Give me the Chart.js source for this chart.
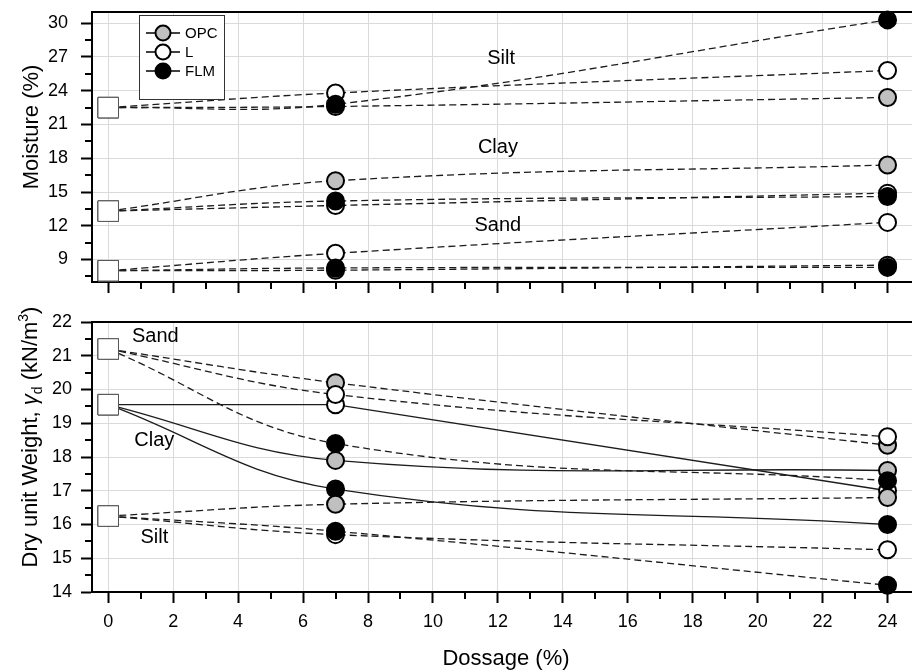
<!DOCTYPE html>
<html>
<head>
<meta charset="utf-8">
<script src="https://cdn.jsdelivr.net/npm/chart.js@4.4.0/dist/chart.umd.min.js"></script>
<style>
html,body{margin:0;padding:0;background:#fff;overflow:hidden;width:912px;height:672px;}
#top{position:absolute;left:0;top:0;}
#bot{position:absolute;left:0;top:300px;}
</style>
</head>
<body>
<canvas id="top" width="920" height="300"></canvas>
<canvas id="bot" width="920" height="372"></canvas>
<script>
const FONT = "'Liberation Sans', Arial, Helvetica, sans-serif";

// ---------- data ----------
const dosage = [0, 7, 24];

const materialNames = ['OPC', 'L', 'FLM'];
const materialFills = ['#c0c0c0', '#ffffff', '#000000'];

// Moisture (%)
const moistSiltOPC = [22.5, 22.6, 23.4];
const moistSiltL   = [22.5, 23.8, 25.8];
const moistSiltFLM = [22.5, 22.8, 30.3];
const moistClayOPC = [13.3, 16.0, 17.4];
const moistClayL   = [13.3, 13.8, 14.9];
const moistClayFLM = [13.3, 14.2, 14.6];
const moistSandOPC = [8.0, 8.05, 8.5];
const moistSandL   = [8.0, 9.55, 12.3];
const moistSandFLM = [8.0, 8.25, 8.3];

// Dry unit weight (kN/m3)
const dryClayOPC = [19.55, 17.9, 17.6];
const dryClayL   = [19.55, 19.55, 17.0];
const dryClayFLM = [19.55, 17.05, 16.0];
const drySandOPC = [21.2, 20.2, 18.35];
const drySandL   = [21.2, 19.85, 18.6];
const drySandFLM = [21.2, 18.4, 17.3];
const drySiltOPC = [16.25, 16.6, 16.8];
const drySiltL   = [16.25, 15.7, 15.25];
const drySiltFLM = [16.25, 15.8, 14.2];

// ticks
const xTickValues = [0, 2, 4, 6, 8, 10, 12, 14, 16, 18, 20, 22, 24];
const xMinorTicks = [1, 3, 5, 7, 9, 11, 13, 15, 17, 19, 21, 23];
const moistTicks = [9, 12, 15, 18, 21, 24, 27, 30];
const moistMinorTicks = [7.5, 10.5, 13.5, 16.5, 19.5, 22.5, 25.5, 28.5];
const dryTicks = [14, 15, 16, 17, 18, 19, 20, 21, 22];
const dryMinorTicks = [14.5, 15.5, 16.5, 17.5, 18.5, 19.5, 20.5, 21.5];

// in-plot soil labels (text + data position)
const moistLabels = ['Silt', 'Clay', 'Sand'];
const moistLabelX = [12.1, 12.0, 12.0];
const moistLabelY = [26.9, 19.0, 12.0];
const dryLabels = ['Sand', 'Clay', 'Silt'];
const dryLabelX = [1.45, 1.42, 1.42];
const dryLabelY = [21.57, 18.5, 15.63];

// ---------- helpers ----------
function buildDatasets(groups) {
  const lines = [], points = [];
  groups.forEach((g, i) => {
    const data = dosage.map((d, k) => ({x: d, y: g.values[k]}));
    lines.push({
      data, showLine: true, borderColor: '#1c1c1c', borderWidth: 1.3,
      borderDash: g.dash ? [7, 4] : [],
      tension: g.straight ? 0 : 0.4,
      pointRadius: 0, order: 100, clip: false
    });
    points.push({
      data, showLine: false,
      pointStyle: ['rect', 'circle', 'circle'],
      pointRadius: [14.5, 8.5, 8.5],
      pointBackgroundColor: ['#ffffff', g.fill, g.fill],
      pointBorderColor: ['#555555', '#000000', '#000000'],
      pointBorderWidth: [1, 2, 2],
      order: groups.length - i, clip: false
    });
  });
  return lines.concat(points);
}

function drawVerticalRich(ctx, cx, cy, parts) {
  ctx.save();
  ctx.translate(cx, cy);
  ctx.rotate(-Math.PI / 2);
  let total = 0;
  parts.forEach(p => {
    ctx.font = (p.italic ? 'italic ' : '') + p.size + 'px ' + FONT;
    p.w = ctx.measureText(p.text).width;
    total += p.w;
  });
  let xx = -total / 2;
  ctx.textAlign = 'left';
  ctx.textBaseline = 'alphabetic';
  ctx.fillStyle = '#000';
  parts.forEach(p => {
    ctx.font = (p.italic ? 'italic ' : '') + p.size + 'px ' + FONT;
    ctx.fillText(p.text, xx, p.dy);
    xx += p.w;
  });
  ctx.restore();
}

const decorPlugin = {
  id: 'decor',
  afterDraw(chart, args, opts) {
    const {ctx, chartArea: ca} = chart;
    const x = chart.scales.x, y = chart.scales.y;
    ctx.save();
    // top spine
    ctx.strokeStyle = '#000';
    ctx.lineWidth = 2;
    ctx.beginPath();
    ctx.moveTo(ca.left - 1, ca.top);
    ctx.lineTo(ca.right, ca.top);
    ctx.stroke();
    // minor ticks
    ctx.beginPath();
    opts.xMinor.forEach(v => {
      const px = Math.round(x.getPixelForValue(v));
      ctx.moveTo(px, ca.bottom);
      ctx.lineTo(px, ca.bottom + 7);
    });
    opts.yMinor.forEach(v => {
      const py = Math.round(y.getPixelForValue(v));
      ctx.moveTo(ca.left, py);
      ctx.lineTo(ca.left - 7, py);
    });
    ctx.stroke();
    // soil labels
    ctx.fillStyle = '#000';
    ctx.font = '20px ' + FONT;
    ctx.textAlign = 'center';
    ctx.textBaseline = 'middle';
    opts.labels.forEach((t, i) => {
      ctx.fillText(t, x.getPixelForValue(opts.labelX[i]), y.getPixelForValue(opts.labelY[i]));
    });
    // y title
    drawVerticalRich(ctx, opts.titleX, opts.titleY, opts.title);
    // legend
    if (opts.legend) {
      ctx.fillStyle = '#fff';
      ctx.fillRect(139.5, 15.5, 85, 84);
      ctx.strokeStyle = '#333';
      ctx.lineWidth = 1;
      ctx.strokeRect(139.5, 15.5, 85, 84);
      materialNames.forEach((name, i) => {
        const ry = 33 + i * 19;
        ctx.strokeStyle = '#000';
        ctx.lineWidth = 1.5;
        ctx.beginPath();
        ctx.moveTo(146, ry);
        ctx.lineTo(180, ry);
        ctx.stroke();
        ctx.beginPath();
        ctx.arc(163, ry, 7.5, 0, Math.PI * 2);
        ctx.fillStyle = materialFills[i];
        ctx.fill();
        ctx.lineWidth = 2;
        ctx.stroke();
        ctx.fillStyle = '#000';
        ctx.font = '15px ' + FONT;
        ctx.textAlign = 'left';
        ctx.textBaseline = 'middle';
        ctx.fillText(name, 185, ry + 1);
      });
    }
    ctx.restore();
  }
};

function zeroPad(s) {
  s.paddingTop = 0; s.paddingBottom = 0; s.paddingLeft = 0; s.paddingRight = 0;
}

function makeScales(yMin, yMax, yTicks, showXLabels, xHeight, yPad) {
  return {
    x: {
      type: 'linear', min: -0.5, max: 25,
      afterBuildTicks: s => { s.ticks = xTickValues.map(v => ({value: v})); },
      afterFit: s => { s.height = xHeight; zeroPad(s); },
      ticks: {display: showXLabels, font: {family: FONT, size: 18}, color: '#000', padding: 8, maxRotation: 0, autoSkip: false},
      grid: {color: '#dadada', lineWidth: 1, tickLength: 11, tickColor: '#000', tickWidth: 2},
      border: {color: '#000', width: 2},
      title: showXLabels ? {display: true, text: 'Dossage (%)', font: {family: FONT, size: 22}, color: '#000', padding: {top: 0, bottom: 0}} : {display: false}
    },
    y: {
      type: 'linear', min: yMin, max: yMax,
      afterBuildTicks: s => { s.ticks = yTicks.map(v => ({value: v})); },
      afterFit: s => { s.width = 92; zeroPad(s); },
      ticks: {font: {family: FONT, size: 18}, color: '#000', padding: yPad},
      grid: {color: '#dadada', lineWidth: 1, tickLength: 11, tickColor: '#000', tickWidth: 2},
      border: {color: '#000', width: 2}
    }
  };
}

// ---------- top chart: moisture ----------
new Chart(document.getElementById('top'), {
  type: 'scatter',
  data: {
    datasets: buildDatasets([
      {values: moistClayOPC, fill: materialFills[0], dash: true},
      {values: moistClayL, fill: materialFills[1], dash: true},
      {values: moistClayFLM, fill: materialFills[2], dash: true},
      {values: moistSandOPC, fill: materialFills[0], dash: true},
      {values: moistSandL, fill: materialFills[1], dash: true},
      {values: moistSandFLM, fill: materialFills[2], dash: true},
      {values: moistSiltOPC, fill: materialFills[0], dash: true},
      {values: moistSiltL, fill: materialFills[1], dash: true},
      {values: moistSiltFLM, fill: materialFills[2], dash: true}
    ])
  },
  options: {
    responsive: false, animation: false, devicePixelRatio: 1, events: [],
    layout: {autoPadding: false, padding: {top: 12, left: 0, right: 0, bottom: 0}},
    scales: makeScales(7, 31, moistTicks, false, 18, 13),
    plugins: {
      legend: {display: false}, tooltip: {enabled: false},
      decor: {
        xMinor: xMinorTicks, yMinor: moistMinorTicks,
        labels: moistLabels, labelX: moistLabelX, labelY: moistLabelY,
        titleX: 30, titleY: 127,
        title: [{text: 'Moisture (%)', size: 22, dy: 8}],
        legend: true
      }
    }
  },
  plugins: [decorPlugin]
});

// ---------- bottom chart: dry unit weight ----------
new Chart(document.getElementById('bot'), {
  type: 'scatter',
  data: {
    datasets: buildDatasets([
      {values: dryClayOPC, fill: materialFills[0], dash: false},
      {values: dryClayL, fill: materialFills[1], dash: false, straight: true},
      {values: dryClayFLM, fill: materialFills[2], dash: false},
      {values: drySandOPC, fill: materialFills[0], dash: true},
      {values: drySandL, fill: materialFills[1], dash: true},
      {values: drySandFLM, fill: materialFills[2], dash: true},
      {values: drySiltOPC, fill: materialFills[0], dash: true},
      {values: drySiltL, fill: materialFills[1], dash: true},
      {values: drySiltFLM, fill: materialFills[2], dash: true}
    ])
  },
  options: {
    responsive: false, animation: false, devicePixelRatio: 1, events: [],
    layout: {autoPadding: false, padding: {top: 22, left: 0, right: 0, bottom: 0}},
    scales: makeScales(14, 22, dryTicks, true, 80, 9),
    plugins: {
      legend: {display: false}, tooltip: {enabled: false},
      decor: {
        xMinor: xMinorTicks, yMinor: dryMinorTicks,
        labels: dryLabels, labelX: dryLabelX, labelY: dryLabelY,
        titleX: 29, titleY: 137,
        title: [
          {text: 'Dry unit Weight, ', size: 22, dy: 8},
          {text: 'γ', size: 22, dy: 8, italic: true},
          {text: 'd', size: 14, dy: 13},
          {text: ' (kN/m', size: 22, dy: 8},
          {text: '3', size: 14, dy: -1},
          {text: ')', size: 22, dy: 8}
        ],
        legend: false
      }
    }
  },
  plugins: [decorPlugin]
});
</script>
</body>
</html>
